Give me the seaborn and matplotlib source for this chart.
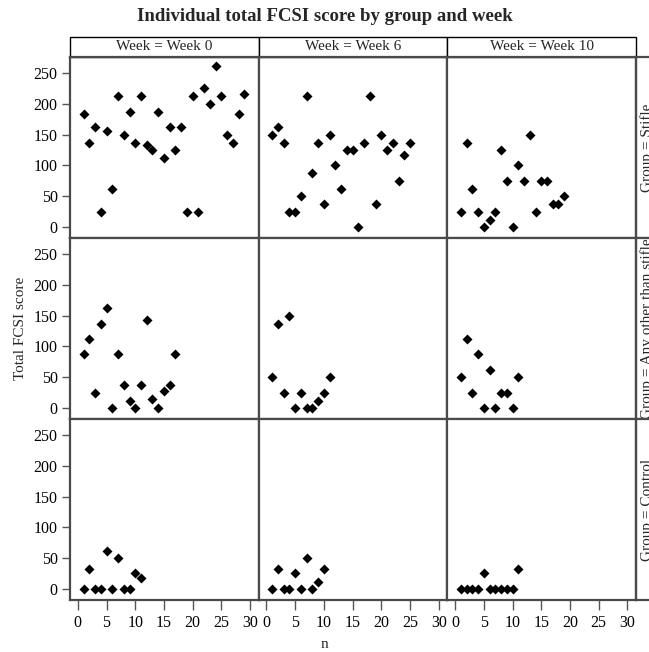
import pandas as pd
import numpy as np
import seaborn as sns
import matplotlib.pyplot as plt
from matplotlib.patches import Rectangle

# values, subject number n = 1..len
weeks = ['Week 0', 'Week 6', 'Week 10']
groups = ['Stifle', 'Any other than stifle', 'Control']

stifle_w0 = [183, 137, 162, 25, 156, 62, 212, 150, 187, 137, 212, 133, 125, 187, 112,
             162, 125, 162, 25, 212, 25, 225, 200, 262, 212, 150, 137, 183, 216]
stifle_w6 = [150, 162, 137, 25, 25, 50, 212, 87, 137, 37, 150, 100, 62, 125, 125,
             0, 137, 212, 37, 150, 125, 137, 75, 116, 137]
stifle_w10 = [25, 137, 62, 25, 0, 12, 25, 125, 75, 0, 100, 75, 150, 25, 75, 75, 37, 37, 50]

other_w0 = [87, 112, 25, 137, 162, 0, 87, 37, 12, 0, 37, 143, 15, 0, 28, 37, 87]
other_w6 = [50, 137, 25, 150, 0, 25, 0, 0, 12, 25, 50]
other_w10 = [50, 112, 25, 87, 0, 62, 0, 25, 25, 0, 50]

control_w0 = [0, 33, 0, 0, 62, 0, 50, 0, 0, 25, 17]
control_w6 = [0, 33, 0, 0, 25, 0, 50, 0, 12, 33]
control_w10 = [0, 0, 0, 0, 25, 0, 0, 0, 0, 0, 33]

series = {
    ('Stifle', 'Week 0'): stifle_w0,
    ('Stifle', 'Week 6'): stifle_w6,
    ('Stifle', 'Week 10'): stifle_w10,
    ('Any other than stifle', 'Week 0'): other_w0,
    ('Any other than stifle', 'Week 6'): other_w6,
    ('Any other than stifle', 'Week 10'): other_w10,
    ('Control', 'Week 0'): control_w0,
    ('Control', 'Week 6'): control_w6,
    ('Control', 'Week 10'): control_w10,
}

rows = []
for (grp, wk), vals in series.items():
    for i, v in enumerate(vals):
        rows.append({'Group': grp, 'Week': wk, 'n': i + 1, 'score': v})
df = pd.DataFrame(rows)

sns.set_style('ticks')
plt.rcParams['font.family'] = ['Liberation Serif', 'DejaVu Serif']

g = sns.relplot(data=df, x='n', y='score', row='Group', col='Week',
                row_order=groups, col_order=weeks, kind='scatter',
                marker='D', color='black', s=26, linewidth=0,
                height=2, aspect=1, facet_kws=dict(sharex=True, sharey=True))
fig = g.figure
fig.set_size_inches(6.49, 6.52)
fig.subplots_adjust(left=0.108, right=0.98, top=0.9126, bottom=0.0798,
                    wspace=0, hspace=0)

g.set_titles('')
g.set_axis_labels('', '')
g.set(xlim=(-1.35, 31.5), ylim=(-18, 276),
      xticks=[0, 5, 10, 15, 20, 25, 30], yticks=[0, 50, 100, 150, 200, 250])

frame_col = '#4a4a4a'
nr, nc = g.axes.shape
for i in range(nr):
    for j in range(nc):
        ax = g.axes[i, j]
        for sp in ax.spines.values():
            sp.set_visible(True)
            sp.set_color(frame_col)
            sp.set_linewidth(1.6)
        ax.tick_params(axis='y', direction='out', length=6, width=1, color='#555555',
                       labelsize=11.5, labelcolor='black', pad=3, left=(j == 0))
        ax.tick_params(axis='x', direction='out', length=7, width=1, color='#555555',
                       labelsize=11.5, labelcolor='black', pad=4, bottom=(i == nr - 1))

# column strips
for j, wk in enumerate(weeks):
    ax = g.axes[0, j]
    ax.add_patch(Rectangle((0, 1), 1, 0.112, transform=ax.transAxes,
                           facecolor='white', edgecolor='black', lw=1, clip_on=False))
    ax.text(0.5, 1.056, 'Week = ' + wk, transform=ax.transAxes,
            ha='center', va='center', fontsize=11)

# row strips on the right (cut off by the figure edge, as in the original)
for i, grp in enumerate(groups):
    ax = g.axes[i, 2]
    ax.add_patch(Rectangle((1, 0), 0.1, 1, transform=ax.transAxes,
                           facecolor='white', edgecolor=frame_col, lw=1.6, clip_on=False))
    ax.text(1.06, 0.5, 'Group = ' + grp, transform=ax.transAxes, rotation=90,
            ha='center', va='center', fontsize=11, clip_on=False)

fig.text(0.5, 0.974, 'Individual total FCSI score by group and week',
         ha='center', va='center', fontsize=13.5, fontweight='bold')
fig.text(0.5, 0.011, 'n', ha='center', va='center', fontsize=11)
fig.text(0.032, 0.496, 'Total FCSI score', ha='center', va='center',
         rotation=90, fontsize=11)

fig.savefig('out.png', dpi=100)
